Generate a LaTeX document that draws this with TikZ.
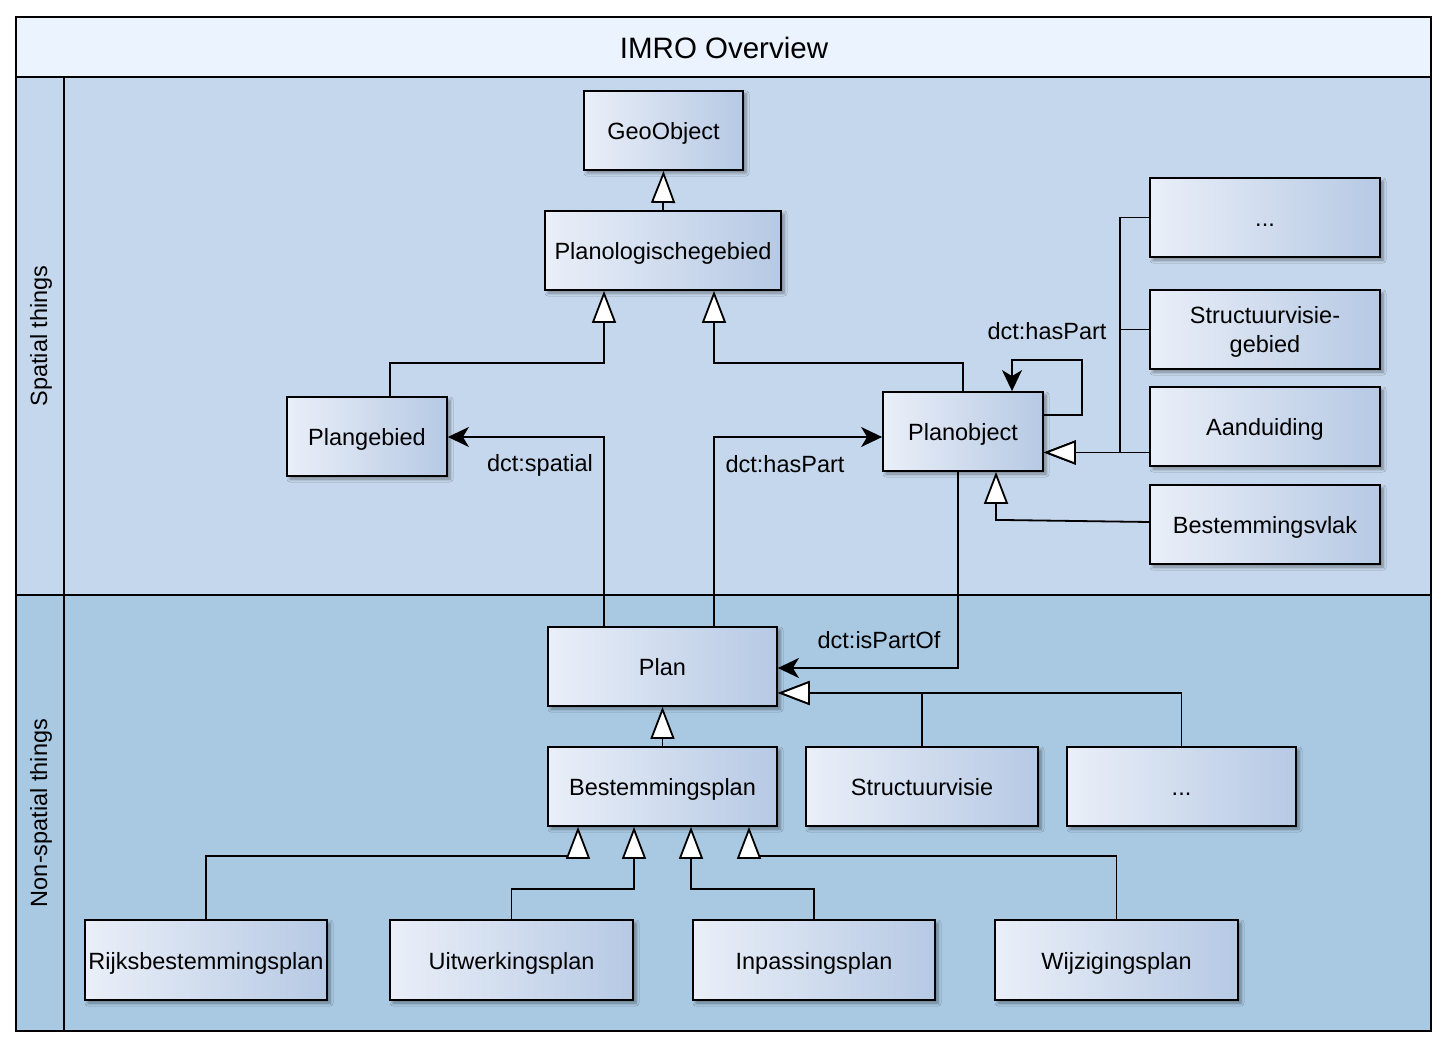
\documentclass[tikz,border=0pt]{standalone}
\usepackage{fontspec}
\setmainfont{Liberation Sans}
\usetikzlibrary{arrows.meta,shadows.blur,calc}
\definecolor{titlefill}{RGB}{235,243,254}
\definecolor{spfill}{RGB}{197,215,236}
\definecolor{nspfill}{RGB}{169,200,226}
\definecolor{boxL}{RGB}{234,239,248}
\definecolor{boxR}{RGB}{182,201,228}
\begin{document}
\begin{tikzpicture}[x=1pt,y=-1pt,
  txt/.style={font=\fontsize{23.5}{29}\selectfont},
  cls/.style={txt, draw=black, line width=1.8pt, left color=boxL, right color=boxR,
    align=center, inner sep=0pt, text height=18pt, text depth=0pt,
    blur shadow={shadow xshift=3pt, shadow yshift=-3pt, shadow opacity=40, shadow blur steps=6, shadow blur radius=3pt}},
  gen/.style={draw=black, line width=1.8pt, -{Triangle[length=32pt, width=24pt, fill=white]}},
  assoc/.style={draw=black, line width=1.8pt, -{Stealth[length=21pt, width=20pt, inset=6pt]}},
  lbl/.style={txt, inner sep=0pt},
  lane/.style={draw=black, line width=2pt}
]
\useasboundingbox (0,0) rectangle (1448,1048);
\fill[white] (0,0) rectangle (1448,1048);
% pool
\fill[titlefill] (16,17) rectangle (1431,77);
\fill[spfill] (16,77) rectangle (1431,595);
\fill[nspfill] (16,595) rectangle (1431,1031);
\draw[lane] (16,77) -- (1431,77);
\draw[lane] (16,595) -- (1431,595);
\draw[lane] (64,77) -- (64,1031);
\draw[black, line width=2.4pt] (16,17) rectangle (1431,1031);
\node[inner sep=0pt, font=\fontsize{29.5}{34}\selectfont] (title) at (724,48) {IMRO Overview};
\node[lbl, rotate=90] (lsp) at (41,336) {Spatial things};
\node[lbl, rotate=90] (lnsp) at (41,813) {Non-spatial things};

% classes
\node[cls, minimum width=159pt, minimum height=79pt] (geo) at (663.5,130.5) {GeoObject};
\node[cls, minimum width=236pt, minimum height=79pt] (plano) at (663,250.5) {Planologischegebied};
\node[cls, minimum width=160pt, minimum height=79pt] (pgb) at (367,436.5) {Plangebied};
\node[cls, minimum width=160pt, minimum height=79pt] (pobj) at (963,431.5) {Planobject};
\node[cls, minimum width=230pt, minimum height=79pt] (dots1) at (1265,217.5) {...};
\node[cls, minimum width=230pt, minimum height=79pt, text height=47pt] (svg) at (1265,329.5) {Structuurvisie-\\gebied};
\node[cls, minimum width=230pt, minimum height=79pt] (aand) at (1265,426.5) {Aanduiding};
\node[cls, minimum width=230pt, minimum height=79pt] (bvlak) at (1265,524.5) {Bestemmingsvlak};
\node[cls, minimum width=229pt, minimum height=79pt] (plan) at (662.5,666.5) {Plan};
\node[cls, minimum width=229pt, minimum height=79pt] (bplan) at (662.5,786.5) {Bestemmingsplan};
\node[cls, minimum width=232pt, minimum height=79pt] (sv) at (922,786.5) {Structuurvisie};
\node[cls, minimum width=229pt, minimum height=79pt] (dots2) at (1181.5,786.5) {...};
\node[cls, minimum width=242pt, minimum height=80pt] (rbp) at (206,960) {Rijksbestemmingsplan};
\node[cls, minimum width=243pt, minimum height=80pt] (uwp) at (511.5,960) {Uitwerkingsplan};
\node[cls, minimum width=242pt, minimum height=80pt] (ipp) at (814,960) {Inpassingsplan};
\node[cls, minimum width=243pt, minimum height=80pt] (wzp) at (1116.5,960) {Wijzigingsplan};

% generalizations (spatial)
\draw[gen] (plano.north) -- (geo.south);
\draw[gen] ($(pgb.north)+(23,0)$) -- ++(0,-33) -| ($(plano.south)+(-59,0)$);
\draw[gen] (pobj.north) -- ++(0,-28) -| ($(plano.south)+(51,0)$);
\draw[gen] (dots1.west) -- ++(-29,0) |- ($(pobj.east)+(0,21)$);
\draw[gen] (svg.west) -- ++(-29,0) |- ($(pobj.east)+(0,21)$);
\draw[gen] ($(aand.west)+(0,26)$) -- ($(pobj.east)+(0,21)$);
\draw[gen] ($(bvlak.west)+(0,-2.5)$) -- ($(pobj.south)+(33,48)$) -- ($(pobj.south)+(33,0)$);

% associations
\draw[assoc] ($(pobj.north east)+(0,24)$) -- ++(38,0) -- ++(0,-55) -| ($(pobj.north)+(49,0)$);
\node[lbl] (lhp1) at (1047,331) {dct:hasPart};
\draw[assoc] ($(plan.north)+(-58.5,0)$) |- ($(pgb.east)+(0,0.5)$);
\node[lbl] (lsp2) at (540,465) {dct:spatial};
\draw[assoc] ($(plan.north)+(51.5,0)$) |- ($(pobj.west)+(0,5.5)$);
\node[lbl] (lhp2) at (785,464) {dct:hasPart};
\draw[assoc] ($(pobj.south)+(-5,0)$) |- ($(plan.east)+(0,1.5)$);
\node[lbl] (lipo) at (879,640) {dct:isPartOf};

% generalizations (non-spatial)
\draw[gen] (bplan.north) -- (plan.south);
\draw[gen] (sv.north) |- ($(plan.east)+(0,26.5)$);
\draw[gen] (dots2.north) |- ($(plan.east)+(0,26.5)$);
\draw[gen] (rbp.north) -- ++(0,-63) -| ($(bplan.south)+(-84.5,0)$);
\draw[gen] (uwp.north) -- ++(0,-30) -| ($(bplan.south)+(-28.5,0)$);
\draw[gen] (ipp.north) -- ++(0,-30) -| ($(bplan.south)+(28.5,0)$);
\draw[gen] (wzp.north) -- ++(0,-63) -| ($(bplan.south)+(86.5,0)$);
\end{tikzpicture}
\end{document}
